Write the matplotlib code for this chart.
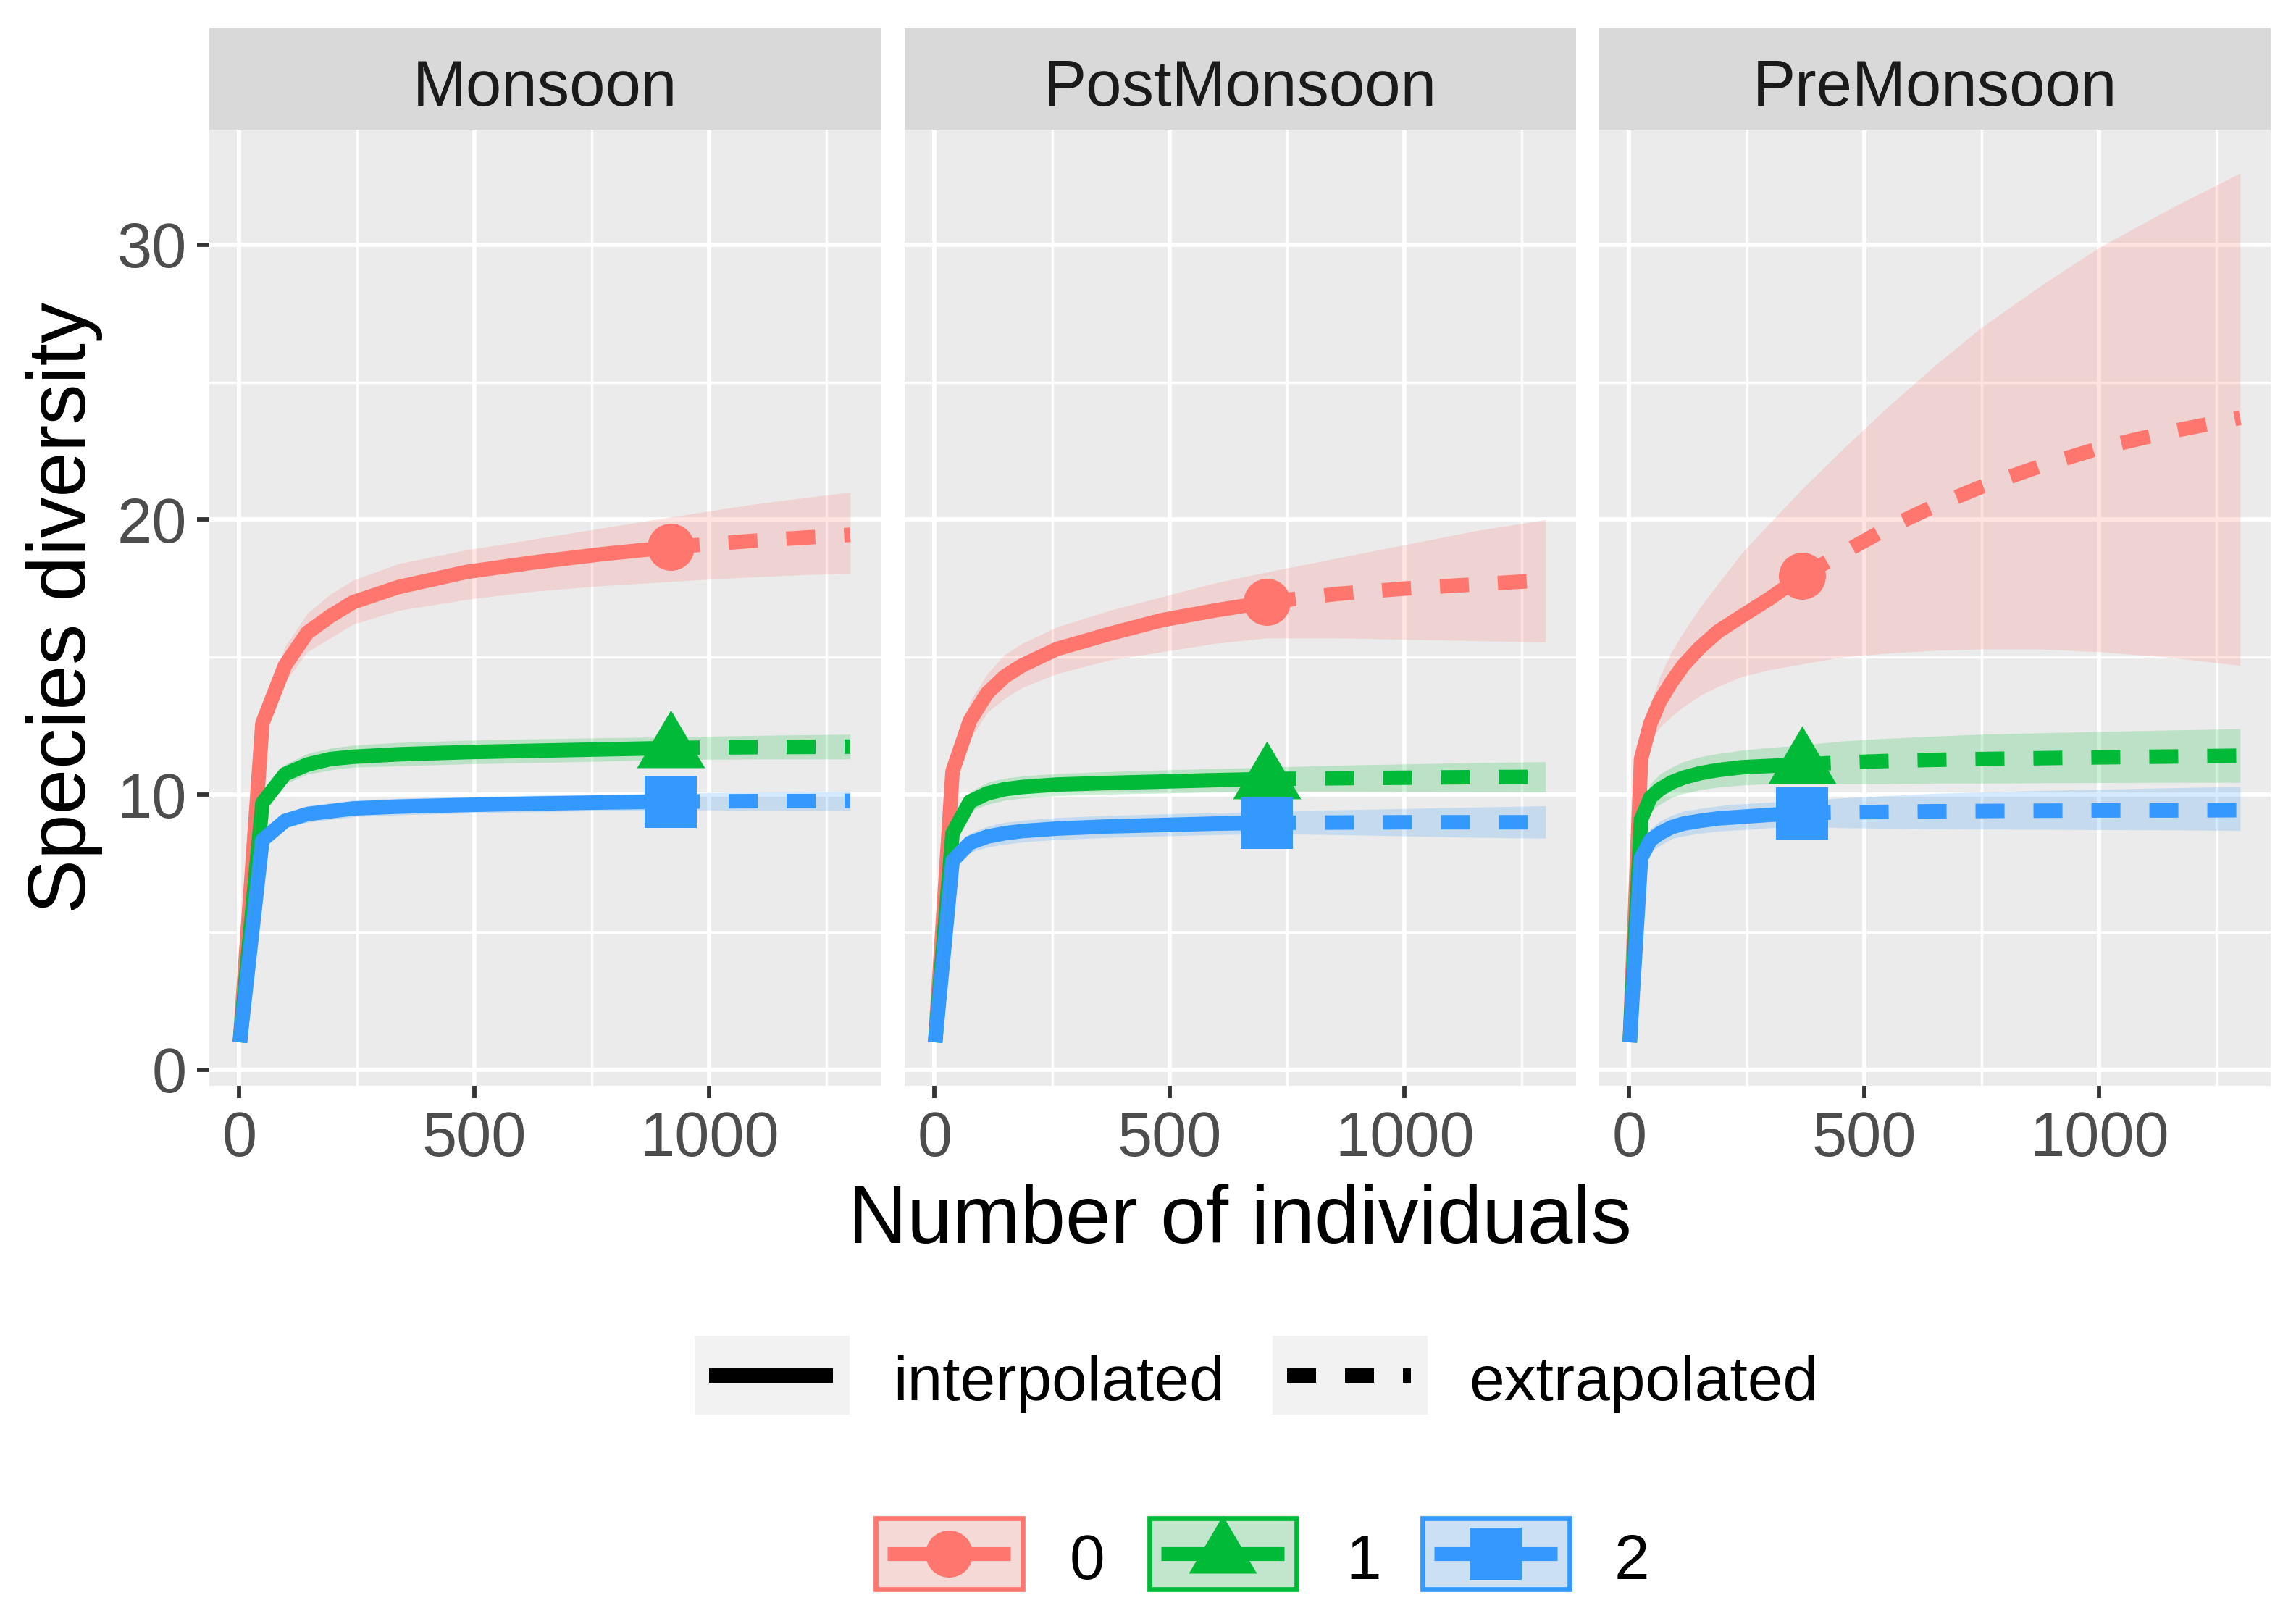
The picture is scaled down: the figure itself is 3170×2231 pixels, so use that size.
import matplotlib.pyplot as plt
from matplotlib.patches import Rectangle
from matplotlib.lines import Line2D

plt.rcParams['font.family'] = ['Liberation Sans', 'DejaVu Sans']

seasons = ['Monsoon', 'PostMonsoon', 'PreMonsoon']
orders = ['0', '1', '2']
method_labels = ['interpolated', 'extrapolated']
x_ticks = [0, 500, 1000]
y_ticks = [0, 10, 20, 30]

# Monsoon (observed sample size = last interpolated point)
mon_n = 918
mon_x = [1, 49, 97, 145, 194, 242, 338, 483, 628, 773, 918, 1013, 1109, 1204, 1300]
mon_q0 = [1, 12.6, 14.7, 15.9, 16.5, 17.0, 17.55, 18.1, 18.45, 18.75, 19.0, 19.13, 19.25, 19.35, 19.45]
mon_q0_lo = [1, 12.3, 14.1, 15.2, 15.7, 16.2, 16.7, 17.1, 17.4, 17.6, 17.75, 17.85, 17.93, 18.0, 18.05]
mon_q0_hi = [1, 12.9, 15.4, 16.6, 17.3, 17.8, 18.4, 18.9, 19.3, 19.7, 20.1, 20.35, 20.6, 20.8, 21.0]
mon_q1 = [1, 9.7, 10.75, 11.1, 11.3, 11.38, 11.47, 11.55, 11.6, 11.65, 11.7, 11.72, 11.73, 11.74, 11.75]
mon_q1_lo = [1, 9.5, 10.4, 10.75, 10.9, 11.0, 11.05, 11.12, 11.17, 11.22, 11.28, 11.29, 11.3, 11.3, 11.3]
mon_q1_hi = [1, 9.9, 11.1, 11.5, 11.7, 11.8, 11.9, 11.98, 12.03, 12.07, 12.1, 12.13, 12.16, 12.18, 12.2]
mon_q2 = [1, 8.35, 9.05, 9.3, 9.4, 9.5, 9.57, 9.63, 9.68, 9.72, 9.75, 9.76, 9.77, 9.77, 9.78]
mon_q2_lo = [1, 8.2, 8.8, 9.0, 9.1, 9.2, 9.27, 9.33, 9.38, 9.42, 9.45, 9.44, 9.43, 9.43, 9.42]
mon_q2_hi = [1, 8.5, 9.3, 9.6, 9.7, 9.8, 9.87, 9.93, 9.98, 10.02, 10.05, 10.08, 10.1, 10.12, 10.13]

# PostMonsoon
post_n = 707
post_x = [1, 38, 75, 112, 149, 186, 260, 372, 484, 596, 707, 855, 1003, 1152, 1300]
post_q0 = [1, 10.85, 12.7, 13.7, 14.3, 14.7, 15.3, 15.85, 16.35, 16.7, 17.0, 17.3, 17.5, 17.65, 17.8]
post_q0_lo = [1, 10.5, 12.0, 13.0, 13.5, 13.9, 14.4, 14.9, 15.2, 15.5, 15.7, 15.7, 15.65, 15.6, 15.55]
post_q0_hi = [1, 11.2, 13.4, 14.4, 15.1, 15.5, 16.1, 16.7, 17.2, 17.7, 18.1, 18.6, 19.1, 19.6, 20.0]
post_q1 = [1, 8.6, 9.75, 10.05, 10.2, 10.28, 10.37, 10.43, 10.48, 10.53, 10.57, 10.6, 10.62, 10.64, 10.65]
post_q1_lo = [1, 8.4, 9.4, 9.65, 9.8, 9.88, 9.97, 10.02, 10.06, 10.1, 10.13, 10.13, 10.12, 10.11, 10.1]
post_q1_hi = [1, 8.8, 10.1, 10.45, 10.6, 10.68, 10.77, 10.84, 10.9, 10.95, 11.0, 11.07, 11.12, 11.17, 11.2]
post_q2 = [1, 7.6, 8.25, 8.48, 8.6, 8.68, 8.77, 8.85, 8.9, 8.95, 8.98, 8.99, 9.0, 9.0, 9.0]
post_q2_lo = [1, 7.4, 7.9, 8.1, 8.2, 8.28, 8.37, 8.45, 8.5, 8.55, 8.58, 8.55, 8.5, 8.45, 8.42]
post_q2_hi = [1, 7.8, 8.6, 8.85, 9.0, 9.07, 9.17, 9.25, 9.3, 9.35, 9.38, 9.45, 9.5, 9.55, 9.6]

# PreMonsoon
pre_n = 367
pre_x = [1, 25, 45, 65, 90, 115, 150, 190, 240, 300, 367, 450, 550, 650, 750, 875, 1000, 1150, 1300]
pre_q0 = [1, 11.3, 12.6, 13.4, 14.1, 14.7, 15.35, 15.95, 16.5, 17.15, 17.95,
          18.75, 19.7, 20.5, 21.2, 21.95, 22.6, 23.2, 23.7]
pre_q0_lo = [1, 10.9, 11.95, 12.45, 12.85, 13.2, 13.6, 13.95, 14.3, 14.55, 14.75,
             15.0, 15.15, 15.25, 15.3, 15.3, 15.2, 15.0, 14.7]
pre_q0_hi = [1, 11.7, 13.3, 14.3, 15.2, 15.9, 16.8, 17.7, 18.8, 19.9, 21.1,
             22.5, 24.1, 25.6, 27.0, 28.5, 29.9, 31.3, 32.6]
pre_q1 = [1, 9.1, 9.9, 10.2, 10.45, 10.62, 10.78, 10.9, 11.0, 11.05, 11.1,
          11.17, 11.23, 11.27, 11.3, 11.33, 11.36, 11.39, 11.42]
pre_q1_lo = [1, 8.8, 9.4, 9.65, 9.9, 10.04, 10.18, 10.28, 10.35, 10.4, 10.45,
             10.4, 10.4, 10.42, 10.42, 10.43, 10.44, 10.45, 10.45]
pre_q1_hi = [1, 9.4, 10.4, 10.75, 11.0, 11.2, 11.38, 11.5, 11.62, 11.72, 11.8,
             11.95, 12.05, 12.13, 12.2, 12.25, 12.3, 12.35, 12.4]
pre_q2 = [1, 7.7, 8.35, 8.6, 8.82, 8.95, 9.05, 9.14, 9.2, 9.27, 9.33,
          9.36, 9.38, 9.4, 9.41, 9.42, 9.43, 9.43, 9.44]
pre_q2_lo = [1, 7.4, 7.95, 8.15, 8.4, 8.5, 8.6, 8.68, 8.73, 8.8, 8.85,
             8.8, 8.78, 8.76, 8.75, 8.74, 8.73, 8.72, 8.7]
pre_q2_hi = [1, 8.0, 8.75, 9.05, 9.25, 9.4, 9.5, 9.6, 9.67, 9.73, 9.78,
             9.88, 9.97, 10.05, 10.1, 10.15, 10.2, 10.25, 10.3]

panels = [
    (mon_n, mon_x, [(mon_q0, mon_q0_lo, mon_q0_hi), (mon_q1, mon_q1_lo, mon_q1_hi), (mon_q2, mon_q2_lo, mon_q2_hi)]),
    (post_n, post_x, [(post_q0, post_q0_lo, post_q0_hi), (post_q1, post_q1_lo, post_q1_hi), (post_q2, post_q2_lo, post_q2_hi)]),
    (pre_n, pre_x, [(pre_q0, pre_q0_lo, pre_q0_hi), (pre_q1, pre_q1_lo, pre_q1_hi), (pre_q2, pre_q2_lo, pre_q2_hi)]),
]

colors = ['#FF766E', '#00BA38', '#3399FF']
triangle = [(0, 53), (-47, -27), (47, -27), (0, 53)]
markers = ['o', triangle, 's']
marker_sizes = [15.6, 25.4, 17.3]
LW = 4.8

W, H, DPI = 3170, 2231, 300
fig = plt.figure(figsize=(W / DPI, H / DPI), dpi=DPI)

# shared scales (facet_wrap with fixed scales, 5% expansion)
all_x = mon_x + post_x + pre_x
all_y = [v for _, _, grp in panels for trio in grp for arr in trio for v in arr]
xr = max(all_x) - min(all_x)
yr = max(all_y) - min(all_y)
xlim = (min(all_x) - 0.05 * xr, max(all_x) + 0.05 * xr)
ylim = (min(all_y) - 0.05 * yr, max(all_y) + 0.05 * yr)

panel_left = [289, 1249, 2208]
panel_w = 927
panel_top, panel_bot, strip_top = 179, 1499, 39

for i, (season, (n_obs, xs, groups)) in enumerate(zip(seasons, panels)):
    left = panel_left[i]
    ax = fig.add_axes([left / W, 1 - panel_bot / H, panel_w / W, (panel_bot - panel_top) / H])
    ax.set_facecolor('#EBEBEB')
    for s in ax.spines.values():
        s.set_visible(False)
    k = xs.index(n_obs)
    for (y, lo, hi), col, mk, ms in zip(groups, colors, markers, marker_sizes):
        ax.plot([n_obs], [y[k]], linestyle='none', marker=mk, ms=ms, color=col,
                markeredgewidth=0, zorder=2)
        ax.plot(xs[:k + 1], y[:k + 1], color=col, lw=LW, solid_capstyle='butt',
                solid_joinstyle='round', zorder=3)
        ax.plot(xs[k:], y[k:], color=col, lw=LW, dashes=(2, 2), dash_capstyle='butt',
                dash_joinstyle='round', zorder=3)
    for (y, lo, hi), col in zip(groups, colors):
        ax.fill_between(xs, lo, hi, color=col, alpha=0.2, lw=0, zorder=4)

    ax.set_xlim(xlim)
    ax.set_ylim(ylim)
    ax.set_xticks(x_ticks)
    ax.set_xticks([250, 750, 1250], minor=True)
    ax.set_yticks(y_ticks)
    ax.set_yticks([5, 15, 25], minor=True)
    ax.grid(which='major', color='white', lw=1.4)
    ax.grid(which='minor', color='white', lw=0.8)
    ax.set_axisbelow(True)
    ax.tick_params(which='major', length=4, width=1.4, color='#333333',
                   labelsize=20.8, labelcolor='#4D4D4D')
    ax.tick_params(which='minor', length=0)
    ax.tick_params(axis='x', pad=4.2)
    ax.tick_params(axis='y', pad=3.4)
    if i > 0:
        ax.tick_params(axis='y', which='both', left=False, labelleft=False)

    sax = fig.add_axes([left / W, 1 - panel_top / H, panel_w / W, (panel_top - strip_top) / H])
    sax.set_facecolor('#D9D9D9')
    sax.set_xticks([])
    sax.set_yticks([])
    for s in sax.spines.values():
        s.set_visible(False)
    sax.text(0.5, (panel_top - 146) / (panel_top - strip_top), season, ha='center',
             va='baseline', fontsize=21.3, color='#1A1A1A', transform=sax.transAxes)

# overlay in pixel units for titles and legends
lax = fig.add_axes([0, 0, 1, 1], zorder=10)
lax.set_xlim(0, W)
lax.set_ylim(H, 0)
lax.axis('off')

lax.text(1712, 1716, 'Number of individuals', ha='center', va='baseline', fontsize=27, color='black')
lax.text(89, (panel_top + panel_bot) / 2, 'Species diversity', rotation=90, ha='center',
         va='center', fontsize=27, color='black')

# linetype legend
key_y, key_h = 1844, 109
for kx, lbl, tx, dashed in [(959, method_labels[0], 1233, False), (1757, method_labels[1], 2028, True)]:
    lax.add_patch(Rectangle((kx, key_y), 214, key_h, facecolor='#F2F2F2', edgecolor='none'))
    ln = Line2D([kx + 20, kx + 191], [key_y + key_h / 2] * 2, color='black', lw=LW)
    if dashed:
        ln.set_dashes((2, 2))
        ln.set_dash_capstyle('butt')
    else:
        ln.set_solid_capstyle('butt')
    lax.add_line(ln)
    lax.text(tx, 1933, lbl, ha='left', va='baseline', fontsize=21, color='black')

# colour / shape legend
key2_y, key2_h = 2092, 105
for kx, lbl, col, mk, ms, tx in zip([1205, 1583, 1960], orders, colors, markers, marker_sizes,
                                     [1477, 1858, 2229]):
    lax.add_patch(Rectangle((kx, key2_y), 210, key2_h, facecolor='#F2F2F2', edgecolor='none'))
    lax.add_patch(Rectangle((kx + 3.5, key2_y + 3.5), 203, key2_h - 7, facecolor=col,
                            alpha=0.2, edgecolor='none'))
    lax.add_patch(Rectangle((kx + 3.5, key2_y + 3.5), 203, key2_h - 7, facecolor='none',
                            edgecolor=col, lw=1.6))
    cy = key2_y + key2_h / 2
    lax.add_line(Line2D([kx + 20, kx + 190], [cy, cy], color=col, lw=4.6, solid_capstyle='butt'))
    lax.add_line(Line2D([kx + 105], [cy], linestyle='none', marker=mk, ms=ms, color=col,
                        markeredgewidth=0))
    lax.text(tx, 2180, lbl, ha='left', va='baseline', fontsize=21, color='black')

fig.savefig('out.png', dpi=DPI, facecolor='white')
